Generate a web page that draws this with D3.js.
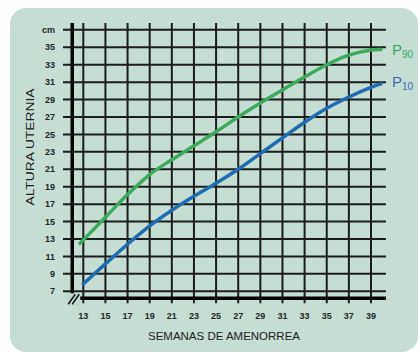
<!DOCTYPE html>
<html><head><meta charset="utf-8">
<script src="https://cdn.jsdelivr.net/npm/d3@7"></script>
<style>html,body{margin:0;padding:0;background:#fff;}svg{display:block;}</style>
</head><body>
<script>
const yTicks = [7,9,11,13,15,17,19,21,23,25,27,29,31,33,35];
const xTicks = [13,15,17,19,21,23,25,27,29,31,33,35,37,39];
const weeksP90 = [12.7,15,17,19,21,23,25,27,29,31,33,35,37,39,39.9];
const valuesP90 = [12.5,15.5,18.1,20.4,22.1,23.7,25.3,27.0,28.6,30.1,31.6,33.0,34.1,34.7,34.75];
const weeksP10 = [13,15,17,19,21,23,25,27,29,31,33,35,37,39,39.9];
const valuesP10 = [7.85,10.15,12.4,14.5,16.3,17.9,19.4,21.0,22.8,24.6,26.4,28.0,29.3,30.4,30.8];
const unitLabel = "cm";
const xTitle = "SEMANAS DE AMENORREA";
const yTitle = "ALTURA UTERNIA";

const W = 420, H = 355;
const svg = d3.select("body").append("svg").attr("width", W).attr("height", H);

svg.append("rect").attr("x",10).attr("y",8).attr("width",408).attr("height",344)
  .attr("rx",16).attr("fill","#c5ddd3");

const x = d3.scaleLinear().domain([13,39]).range([83.3,371]);
const y = d3.scaleLinear().domain([7,35]).range([291.3,47.3]);

const xAxisVal = 12, yAxisVal = 6.2, yTop = 37.8, xRight = 40.35;
const gridColor = "#1c1c1c";

// horizontal grid lines (odd values + cm line)
const hVals = yTicks.concat([37]);
svg.append("g").selectAll("line").data(hVals).join("line")
  .attr("x1", 63).attr("x2", x(xRight))
  .attr("y1", d=>y(d)).attr("y2", d=>y(d))
  .attr("stroke", gridColor).attr("stroke-width", 2);

// vertical grid lines
svg.append("g").selectAll("line").data(xTicks).join("line")
  .attr("x1", d=>x(d)).attr("x2", d=>x(d))
  .attr("y1", y(yTop)).attr("y2", y(yAxisVal)+5)
  .attr("stroke", gridColor).attr("stroke-width", 2);

// axes
svg.append("line").attr("x1", x(xAxisVal)).attr("x2", x(xAxisVal))
  .attr("y1", y(yTop)).attr("y2", y(yAxisVal)+1.5)
  .attr("stroke","#000").attr("stroke-width",3.5);
svg.append("line").attr("x1", x(xAxisVal)-1.5).attr("x2", x(xRight))
  .attr("y1", y(yAxisVal)).attr("y2", y(yAxisVal))
  .attr("stroke","#000").attr("stroke-width",3.5);

// axis break mark
const bx = x(xAxisVal)+2, by = y(yAxisVal)+1;
svg.append("rect").attr("x", bx-7).attr("y", by-6).attr("width", 13).attr("height", 12).attr("fill","#bcd8cb");
[-2.5, 1.5].forEach(o=>{
  svg.append("line").attr("x1", bx+o-3.5).attr("y1", by+5).attr("x2", bx+o+3.5).attr("y2", by-5)
    .attr("stroke","#111").attr("stroke-width",1.4);
});

// tick labels
svg.append("g").selectAll("text").data(yTicks).join("text")
  .attr("x", 55).attr("y", d=>y(d)).attr("dy","0.35em")
  .attr("text-anchor","end").attr("font-family","Liberation Sans, Arial, sans-serif")
  .attr("font-weight","bold").attr("font-size",9).attr("fill","#262626").text(d=>d);
svg.append("text").attr("x",55).attr("y", y(37)).attr("dy","0.35em")
  .attr("text-anchor","end").attr("font-family","Liberation Sans, Arial, sans-serif")
  .attr("font-weight","bold").attr("font-size",9).attr("fill","#262626").text(unitLabel);
svg.append("g").selectAll("text").data(xTicks).join("text")
  .attr("x", d=>x(d)).attr("y", 316).attr("dy","0.35em")
  .attr("text-anchor","middle").attr("font-family","Liberation Sans, Arial, sans-serif")
  .attr("font-weight","bold").attr("font-size",9).attr("fill","#262626").text(d=>d);

// titles
svg.append("text").attr("x",224).attr("y",336).attr("dy","0.35em")
  .attr("text-anchor","middle").attr("font-family","Liberation Sans Narrow, Liberation Sans, Arial, sans-serif")
  .attr("font-size",10.5).attr("fill","#222")
  .attr("textLength",152).attr("lengthAdjust","spacingAndGlyphs").text(xTitle);
svg.append("text").attr("transform","translate(30.5,147) rotate(-90)").attr("dy","0.35em")
  .attr("text-anchor","middle").attr("font-family","Liberation Sans Narrow, Liberation Sans, Arial, sans-serif")
  .attr("font-size",10.5).attr("fill","#222")
  .attr("textLength",117).attr("lengthAdjust","spacingAndGlyphs").text(yTitle);

// curves
const line = d3.line().x(d=>x(d[0])).y(d=>y(d[1])).curve(d3.curveCatmullRom.alpha(0.5));
const green = "#3caa5c", blue = "#1d6db0";
svg.append("path").datum(d3.zip(weeksP90, valuesP90)).attr("d", line)
  .attr("fill","none").attr("stroke", green).attr("stroke-width",3.5).attr("stroke-linecap","round");
svg.append("path").datum(d3.zip(weeksP10, valuesP10)).attr("d", line)
  .attr("fill","none").attr("stroke", blue).attr("stroke-width",3.5).attr("stroke-linecap","round");

// series labels
function pLabel(yPos, sub, color){
  const t = svg.append("text").attr("x",392).attr("y",yPos)
    .attr("font-family","Liberation Sans, Arial, sans-serif").attr("fill",color);
  t.append("tspan").attr("font-size",15).text("P");
  t.append("tspan").attr("font-size",10).attr("dy",3.3).text(sub);
}
pLabel(55, "90", "#38a86a");
pLabel(87, "10", "#3f6cb0");
</script>
</body></html>
